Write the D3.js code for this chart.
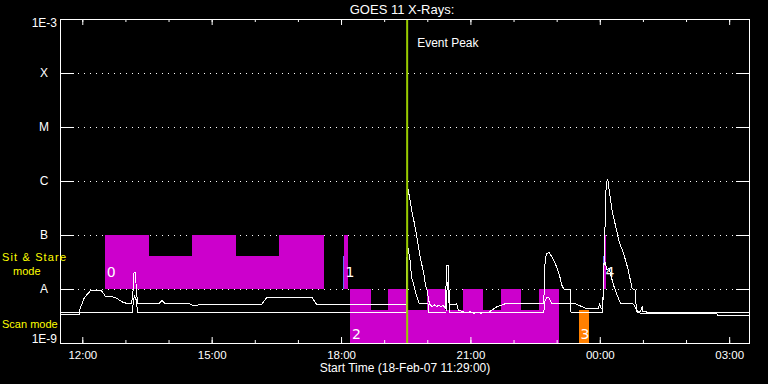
<!DOCTYPE html>
<html>
<head>
<meta charset="utf-8">
<script src="https://cdn.jsdelivr.net/npm/d3@7"></script>
<style>
  body { margin: 0; background: #000; }
  svg { display: block; }
</style>
</head>
<body>
<svg id="chart" width="768" height="384"></svg>
<script>
// Axis ticks
const timeTicks = ['12:00', '15:00', '18:00', '21:00', '00:00', '03:00'];
const fluxTicks = [1e-9, 1e-8, 1e-7, 1e-6, 1e-5, 1e-4, 1e-3];
const fluxLabels = ['1E-9', 'A', 'B', 'C', 'M', 'X', '1E-3'];
const startTime = '11:29';
const endTime = '03:29';
const eventPeak = '19:32';

// GOES 11 long channel (upper curve) [time, W/m2]
const longChannel = [
    ['11:29', 3.35e-9], ['11:56', 3.35e-9], ['11:57', 4.4e-9], ['12:00', 5.4e-9], ['12:03', 7.0e-9],
    ['12:06', 7.7e-9], ['12:09', 8.5e-9], ['12:11', 9.2e-9], ['12:27', 9.2e-9], ['12:32', 7.4e-9],
    ['12:46', 7.0e-9], ['12:55', 5.8e-9], ['13:02', 5.4e-9], ['13:08', 5.3e-9], ['13:10', 6.8e-9],
    ['13:12', 2.0e-8], ['13:14', 2.0e-8], ['13:15', 1.1e-8], ['13:17', 5.3e-9], ['13:46', 5.3e-9],
    ['13:49', 5.8e-9], ['13:51', 6.1e-9], ['13:53', 5.75e-9], ['13:55', 5.3e-9], ['14:30', 5.3e-9],
    ['14:33', 5.0e-9], ['14:37', 5.05e-9], ['14:40', 5.0e-9], ['14:43', 5.2e-9], ['16:10', 5.2e-9],
    ['16:12', 5.8e-9], ['16:17', 7.0e-9], ['17:20', 7.0e-9], ['17:21', 6.5e-9], ['17:24', 5.75e-9],
    ['17:26', 5.2e-9], ['19:31', 5.2e-9], ['19:33', 7.4e-7], ['19:36', 4.4e-7], ['19:39', 2.55e-7],
    ['19:42', 1.67e-7], ['19:45', 1.0e-7], ['19:48', 5.7e-8], ['19:51', 3.44e-8], ['19:55', 1.95e-8],
    ['19:58', 1.1e-8], ['20:00', 9.2e-9], ['20:02', 6.1e-9], ['20:04', 5.05e-9], ['20:07', 4.7e-9],
    ['20:10', 5.05e-9], ['20:13', 4.7e-9], ['20:16', 5.05e-9], ['20:19', 4.7e-9], ['20:22', 5.0e-9],
    ['20:25', 4.4e-9], ['20:27', 2.67e-8], ['20:29', 2.67e-8], ['20:31', 5.05e-9], ['20:41', 5.3e-9],
    ['20:43', 4.1e-9], ['20:50', 3.8e-9], ['20:55', 3.6e-9], ['21:00', 3.8e-9], ['21:05', 3.55e-9],
    ['21:10', 3.7e-9], ['21:15', 3.55e-9], ['21:20', 3.7e-9], ['21:25', 3.6e-9], ['21:30', 4.1e-9],
    ['21:37', 4.7e-9], ['21:44', 5.05e-9], ['21:48', 5.3e-9], ['22:42', 5.3e-9], ['22:44', 3.44e-8],
    ['22:46', 4.45e-8], ['22:49', 4.8e-8], ['22:51', 4.45e-8], ['22:53', 4.0e-8], ['22:58', 3.0e-8],
    ['23:03', 1.95e-8], ['23:05', 1.58e-8], ['23:07', 1.19e-8], ['23:10', 1.0e-8], ['23:19', 1.0e-8],
    ['23:20', 3.7e-9], ['00:04', 3.7e-9], ['00:06', 3.44e-8], ['00:09', 9.6e-7], ['00:11', 1.04e-6],
    ['00:12', 9.6e-7], ['00:13', 6.8e-7], ['00:17', 2.9e-7], ['00:21', 1.67e-7], ['00:27', 7.5e-8],
    ['00:33', 4.6e-8], ['00:39', 2.42e-8], ['00:42', 1.58e-8], ['00:45', 1.03e-8], ['00:49', 9.6e-9],
    ['00:51', 4.1e-9], ['00:52', 3.7e-9], ['00:56', 3.8e-9], ['00:59', 4.6e-9], ['01:00', 3.8e-9],
    ['01:10', 3.7e-9], ['01:30', 3.65e-9], ['02:00', 3.7e-9], ['02:43', 3.65e-9], ['03:29', 3.6e-9]
];

// GOES 11 short channel (lower curve)
const shortChannel = [
    ['11:29', 3.7e-9], ['13:10', 3.7e-9], ['13:11', 6.25e-9], ['13:13', 7.4e-9], ['13:15', 6.25e-9],
    ['13:17', 3.7e-9], ['19:31', 3.7e-9], ['19:33', 6.0e-8], ['19:36', 3.44e-8], ['19:38', 1.69e-8],
    ['19:42', 1.1e-8], ['19:44', 8.3e-9], ['19:47', 6.25e-9], ['19:49', 5.3e-9], ['20:01', 5.3e-9],
    ['20:02', 3.7e-9], ['20:26', 3.7e-9], ['20:28', 1.35e-8], ['20:30', 6.25e-9], ['20:31', 3.7e-9],
    ['22:42', 3.7e-9], ['22:44', 6.25e-9], ['22:47', 7.1e-9], ['22:49', 7.0e-9], ['22:53', 5.4e-9],
    ['22:56', 5.3e-9], ['23:27', 5.3e-9], ['23:33', 4.85e-9], ['23:40', 4.4e-9], ['23:45', 4.27e-9],
    ['23:50', 4.4e-9], ['23:55', 4.27e-9], ['23:58', 4.4e-9], ['00:00', 5.3e-9], ['00:02', 4.4e-9],
    ['00:04', 4.4e-9], ['00:06', 3.16e-8], ['00:07', 3.2e-8], ['00:10', 2.25e-8], ['00:13', 2.42e-8],
    ['00:15', 1.9e-8], ['00:19', 1.19e-8], ['00:24', 7.7e-9], ['00:28', 5.8e-9], ['00:30', 5.3e-9],
    ['00:46', 5.4e-9], ['00:49', 4.7e-9], ['00:51', 4.1e-9], ['00:56', 3.55e-9], ['01:05', 3.45e-9],
    ['01:15', 3.5e-9], ['01:30', 3.45e-9], ['01:45', 3.5e-9], ['02:00', 3.45e-9], ['02:15', 3.5e-9],
    ['02:30', 3.45e-9], ['02:43', 3.45e-9], ['02:44', 3.26e-9], ['03:29', 3.26e-9]
];

// Observing mode blocks: [block, start, end, top, bottom]
const modeSegments = [
    [0, '12:32', '13:33', 1e-7, 1e-8], [0, '13:33', '14:33', 4.1e-8, 1e-8],
    [0, '14:33', '15:34', 1e-7, 1e-8], [0, '15:34', '16:34', 4.1e-8, 1e-8],
    [0, '16:34', '17:36', 1e-7, 1e-8],
    [1, '18:04', '18:09', 1e-7, 1e-8],
    [2, '18:13', '18:41', 1e-8, 1e-9], [2, '18:41', '19:06', 4.1e-9, 1e-9],
    [2, '19:06', '19:31', 1e-8, 1e-9], [2, '19:31', '19:59', 4.1e-9, 1e-9],
    [2, '19:59', '20:25', 1e-8, 1e-9], [2, '20:25', '20:50', 4.1e-9, 1e-9],
    [2, '20:50', '21:17', 1e-8, 1e-9], [2, '21:17', '21:43', 4.1e-9, 1e-9],
    [2, '21:43', '22:10', 1e-8, 1e-9], [2, '22:10', '22:36', 4.1e-9, 1e-9],
    [2, '22:36', '23:03', 1e-8, 1e-9],
    [3, '23:31', '23:45', 4.1e-9, 1e-9],
    [4, '00:06', '00:09', 1e-7, 1e-8]
];

// pointing marks at start of sit & stare blocks: [start, end, top, bottom]
const pointingMarks = [
    ['18:03', '18:04', 4.1e-8, 1e-8],
    ['00:04', '00:06', 4.1e-8, 1e-8]
];

const margin = { left: 60, right: 18, top: 19, bottom: 41 };
const width = 768, height = 384;

function parseT(s) {
    const [h, m] = s.split(':').map(Number);
    return new Date(2007, 1, h < 11 ? 19 : 18, h, m);
}

const svg = d3.select('#chart');

const x = d3.scaleTime()
    .domain([parseT(startTime), parseT(endTime)])
    .range([margin.left, width - margin.right]);

const y = d3.scaleLog()
    .domain([1e-9, 1e-3])
    .range([height - margin.bottom, margin.top]);

const x0 = margin.left, x1 = width - margin.right;
const yBottom = height - margin.bottom, yTop = margin.top;

// dotted grid at class levels
svg.append('g')
    .selectAll('line')
    .data(fluxTicks.slice(1, -1))
    .enter()
    .append('line')
    .attr('x1', x0)
    .attr('x2', x1)
    .attr('y1', d => Math.round(y(d)) + 0.5)
    .attr('y2', d => Math.round(y(d)) + 0.5)
    .attr('stroke', '#fff')
    .attr('stroke-dasharray', '1 5')
    .attr('shape-rendering', 'crispEdges');

// mode blocks
svg.append('g')
    .selectAll('rect')
    .data(modeSegments)
    .enter()
    .append('rect')
    .attr('x', d => x(parseT(d[1])))
    .attr('width', d => x(parseT(d[2])) - x(parseT(d[1])))
    .attr('y', d => y(d[3]))
    .attr('height', d => y(d[4]) - y(d[3]))
    .attr('fill', d => d[0] === 3 ? '#ff8000' : '#cc00cc')
    .attr('shape-rendering', 'crispEdges');

svg.append('g')
    .selectAll('rect')
    .data(pointingMarks)
    .enter()
    .append('rect')
    .attr('x', d => x(parseT(d[0])))
    .attr('width', d => x(parseT(d[1])) - x(parseT(d[0])))
    .attr('y', d => y(d[2]))
    .attr('height', d => y(d[3]) - y(d[2]))
    .attr('fill', '#6a6aff')
    .attr('shape-rendering', 'crispEdges');

// block numbers
const blockStarts = d3.groups(modeSegments, d => d[0]).map(([b, segs]) => segs[0]);
svg.append('g')
    .selectAll('text')
    .data(blockStarts)
    .enter()
    .append('text')
    .attr('x', d => x(parseT(d[1])) + 1.5)
    .attr('y', d => d[4] === 1e-9 ? y(d[4]) - 4 : y(d[4]) - 12)
    .attr('font-family', 'DejaVu Sans, sans-serif')
    .attr('font-size', '14px')
    .attr('fill', '#fff')
    .text(d => d[0]);

// curves
const line = d3.line()
    .x(d => x(parseT(d[0])))
    .y(d => y(d[1]));

[longChannel, shortChannel].forEach(series => {
    svg.append('path')
        .datum(series)
        .attr('d', line)
        .attr('fill', 'none')
        .attr('stroke', '#fff')
        .attr('stroke-width', 1)
        .attr('shape-rendering', 'crispEdges');
});

// event peak
const xPeak = x(parseT(eventPeak));
svg.append('line')
    .attr('x1', xPeak).attr('x2', xPeak)
    .attr('y1', yTop).attr('y2', yBottom)
    .attr('stroke', '#99cc00')
    .attr('stroke-width', 2);

svg.append('text')
    .attr('x', xPeak + 10)
    .attr('y', 47)
    .attr('font-family', 'Liberation Sans, Arial, sans-serif')
    .attr('font-size', '12px')
    .attr('fill', '#fff')
    .text('Event Peak');

// time axes: major and minor, top and bottom, ticks inward
const majorVals = timeTicks.map(parseT);
function styleAxis(g) {
    g.attr('color', '#fff');
    g.select('.domain').remove();
}
svg.append('g')
    .attr('transform', `translate(0, ${yBottom})`)
    .call(d3.axisBottom(x).ticks(d3.timeHour.every(1)).tickFormat('').tickSize(-3).tickSizeOuter(0))
    .call(styleAxis);
svg.append('g')
    .attr('transform', `translate(0, ${yTop})`)
    .call(d3.axisTop(x).ticks(d3.timeHour.every(1)).tickFormat('').tickSize(-3).tickSizeOuter(0))
    .call(styleAxis);
svg.append('g')
    .attr('transform', `translate(0, ${yTop})`)
    .call(d3.axisTop(x).tickValues(majorVals).tickFormat('').tickSize(-6).tickSizeOuter(0))
    .call(styleAxis);
const xAxisGroup = svg.append('g')
    .attr('transform', `translate(0, ${yBottom})`)
    .call(d3.axisBottom(x).tickValues(majorVals).tickFormat(d3.timeFormat('%H:%M'))
        .tickSize(-6).tickSizeOuter(0).tickPadding(8))
    .call(styleAxis);
xAxisGroup.selectAll('text')
    .attr('font-family', 'Liberation Sans, Arial, sans-serif')
    .attr('font-size', '11.5px');

// flux axes, ticks inward on both sides
svg.append('g')
    .attr('transform', `translate(${x0}, 0)`)
    .call(d3.axisLeft(y).tickValues(fluxTicks.slice(1, -1)).tickFormat('').tickSize(-14).tickSizeOuter(0))
    .call(styleAxis);
svg.append('g')
    .attr('transform', `translate(${x1}, 0)`)
    .call(d3.axisRight(y).tickValues(fluxTicks.slice(1, -1)).tickFormat('').tickSize(-14).tickSizeOuter(0))
    .call(styleAxis);

svg.append('g')
    .selectAll('text')
    .data(fluxTicks)
    .enter()
    .append('text')
    .attr('x', (d, i) => (i === 0 || i === fluxTicks.length - 1) ? 57 : 44)
    .attr('y', (d, i) => y(d) + (i === 0 ? 0 : (i === fluxTicks.length - 1 ? 8 : 4)))
    .attr('text-anchor', (d, i) => (i === 0 || i === fluxTicks.length - 1) ? 'end' : 'middle')
    .attr('font-family', 'Liberation Sans, Arial, sans-serif')
    .attr('font-size', '12px')
    .attr('fill', '#fff')
    .text((d, i) => fluxLabels[i]);

// frame
svg.append('rect')
    .attr('x', x0 + 0.5)
    .attr('y', yTop + 0.5)
    .attr('width', x1 - x0 - 1)
    .attr('height', yBottom - yTop)
    .attr('fill', 'none')
    .attr('stroke', '#fff')
    .attr('shape-rendering', 'crispEdges');

// titles
svg.append('text')
    .attr('x', 402)
    .attr('y', 14)
    .attr('text-anchor', 'middle')
    .attr('font-family', 'Liberation Sans, Arial, sans-serif')
    .attr('font-size', '13px')
    .attr('fill', '#fff')
    .text('GOES 11 X-Rays:');

svg.append('text')
    .attr('x', 405)
    .attr('y', 372)
    .attr('text-anchor', 'middle')
    .attr('font-family', 'Liberation Sans, Arial, sans-serif')
    .attr('font-size', '12px')
    .attr('fill', '#fff')
    .text('Start Time (18-Feb-07 11:29:00)');

// mode labels
const modeLabel = svg.append('g')
    .attr('font-family', 'Liberation Sans, Arial, sans-serif')
    .attr('font-size', '11px')
    .attr('fill', '#ffff00');
modeLabel.append('text').attr('x', 2).attr('y', 261).attr('textLength', 64).text('Sit & Stare');
modeLabel.append('text').attr('x', 13).attr('y', 274.5).text('mode');
modeLabel.append('text').attr('x', 2).attr('y', 328).text('Scan mode');
</script>
</body>
</html>
